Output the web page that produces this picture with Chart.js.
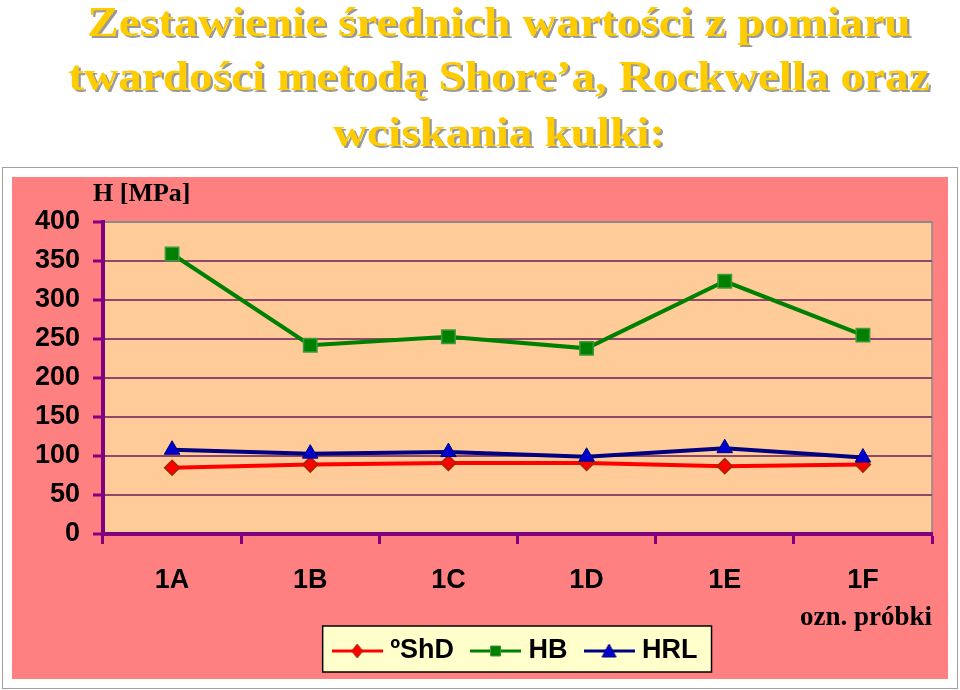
<!DOCTYPE html>
<html><head><meta charset="utf-8">
<script src="https://cdn.jsdelivr.net/npm/chart.js@4.4.1/dist/chart.umd.min.js"></script>
<style>
html,body{margin:0;padding:0;background:#fff;}
#wrap{position:relative;width:960px;height:690px;overflow:hidden;}
canvas{position:absolute;left:0;top:0;}
.t{position:absolute;left:0;width:998px;text-align:center;font:bold 42px "Liberation Serif","Times New Roman",serif;line-height:50px;color:#FFCC00;text-shadow:2px 2px 0 #999999;transform:scaleX(1.125);white-space:nowrap;}
</style></head><body>
<div id="wrap">
<canvas id="c" width="960" height="690"></canvas>
<div class="t" style="top:-3px">Zestawienie średnich wartości z pomiaru</div>
<div class="t" style="top:51px">twardości metodą Shore’a, Rockwella oraz</div>
<div class="t" style="top:107px">wciskania kulki:</div>
</div>
<script>
const categories = ['1A', '1B', '1C', '1D', '1E', '1F'];
const seriesNames = ['ºShD', 'HB', 'HRL'];
const shdValues = [85, 89, 91, 91, 87, 89];
const hbValues = [359, 242, 253, 238, 324, 255];
const hrlValues = [108, 103, 105, 99, 110, 98];
const yAxisTitle = 'H [MPa]';
const xAxisTitle = 'ozn. próbki';

const SANS = "'Liberation Sans', Arial, sans-serif";
const SERIF = "'Liberation Serif', 'Times New Roman', serif";

function sample(lineColor, kind, fill, stroke) {
  const c = document.createElement('canvas');
  c.width = 51; c.height = 20;
  const g = c.getContext('2d');
  g.strokeStyle = lineColor; g.lineWidth = 3;
  g.beginPath(); g.moveTo(0, 10); g.lineTo(51, 10); g.stroke();
  g.fillStyle = fill; g.strokeStyle = stroke; g.lineWidth = 1;
  g.beginPath();
  if (kind === 'diamond') { g.moveTo(25.5, 3); g.lineTo(31, 10); g.lineTo(25.5, 17); g.lineTo(20, 10); }
  else if (kind === 'square') { g.rect(20.5, 5, 10, 10); }
  else { g.moveTo(25.5, 3); g.lineTo(32.5, 16); g.lineTo(18.5, 16); }
  g.closePath(); g.fill(); g.stroke();
  return c;
}
const samples = [
  sample('#FF0000', 'diamond', '#FF0000', '#A02800'),
  sample('#008000', 'square', '#008000', '#3C9A3C'),
  sample('#000080', 'triangle', '#0000CC', '#000080')
];

const decor = {
  id: 'decor',
  afterLayout(chart) {
    const l = chart.legend;
    const d = 517.6 - (l.left + l.right) / 2;
    l.left += d; l.right += d;
  },
  beforeDraw(chart) {
    const ctx = chart.ctx, a = chart.chartArea;
    ctx.save();
    ctx.fillStyle = '#fff'; ctx.fillRect(0, 0, 960, 690);
    ctx.strokeStyle = '#a0a0a0'; ctx.lineWidth = 1;
    ctx.strokeRect(2.5, 167.5, 955, 521);
    ctx.fillStyle = '#FF8080'; ctx.fillRect(12, 177, 936, 502);
    ctx.fillStyle = '#FFCC99'; ctx.fillRect(a.left, a.top, a.right - a.left, a.bottom - a.top);
    ctx.strokeStyle = '#8a8a8a'; ctx.lineWidth = 1.5;
    ctx.strokeRect(a.left, a.top, a.right - a.left, a.bottom - a.top);
    const hb = chart.legend.legendHitBoxes;
    if (hb && hb.length) {
      const first = hb[0], last = hb[hb.length - 1];
      const cy = first.top + first.height / 2;
      const x0 = first.left - 15, x1 = last.left + last.width + 14;
      ctx.fillStyle = '#FFFFCC';
      ctx.fillRect(x0, cy - 25, x1 - x0, 46);
      ctx.strokeStyle = '#000'; ctx.lineWidth = 1.5;
      ctx.strokeRect(x0, cy - 25, x1 - x0, 46);
    }
    ctx.restore();
  },
  afterDraw(chart) {
    const ctx = chart.ctx, a = chart.chartArea;
    ctx.save();
    ctx.fillStyle = '#000';
    ctx.font = 'bold 26px ' + SERIF;
    ctx.textAlign = 'left'; ctx.textBaseline = 'alphabetic';
    ctx.fillText(yAxisTitle, a.left - 10, a.top - 21);
    ctx.restore();
  }
};

new Chart(document.getElementById('c'), {
  type: 'line',
  data: {
    labels: categories,
    datasets: [
      { label: seriesNames[0], data: shdValues, borderColor: '#FF0000', borderWidth: 4,
        pointStyle: 'rectRot', pointRadius: 7.5, pointBackgroundColor: '#FF0000',
        pointBorderColor: '#A02800', pointBorderWidth: 1.5, tension: 0, order: 2 },
      { label: seriesNames[1], data: hbValues, borderColor: '#008000', borderWidth: 4,
        pointStyle: 'rect', pointRadius: 9.5, pointBackgroundColor: '#008000',
        pointBorderColor: '#3C9A3C', pointBorderWidth: 1.5, tension: 0, order: 1 },
      { label: seriesNames[2], data: hrlValues, borderColor: '#000080', borderWidth: 4,
        pointStyle: 'triangle', pointRadius: 9, pointBackgroundColor: '#0000CC',
        pointBorderColor: '#000080', pointBorderWidth: 1, tension: 0, order: 0 }
    ]
  },
  options: {
    responsive: false,
    animation: false,
    devicePixelRatio: 1,
    layout: { padding: { left: 35, right: 28, top: 222, bottom: 15.5 } },
    plugins: {
      title: { display: false },
      tooltip: { enabled: false },
      legend: {
        position: 'bottom',
        labels: {
          color: '#000',
          font: { family: SANS, size: 27, weight: 'bold' },
          usePointStyle: true,
          pointStyleWidth: 39,
          padding: 22,
          sort: (a, b) => a.datasetIndex - b.datasetIndex,
          generateLabels(chart) {
            const items = Chart.defaults.plugins.legend.labels.generateLabels(chart);
            items.forEach(it => { it.pointStyle = samples[it.datasetIndex]; });
            return items;
          }
        }
      }
    },
    scales: {
      x: {
        type: 'category',
        offset: true,
        afterFit: s => { s.height = 81.5; },
        grid: { display: true, drawOnChartArea: false, drawTicks: true, tickLength: 10,
                tickColor: '#800080', tickWidth: 3, offset: true },
        border: { display: true, color: '#800080', width: 4 },
        ticks: { color: '#000', font: { family: SANS, size: 27, weight: 'bold' },
                 padding: 20, maxRotation: 0, autoSkip: false },
        title: { display: true, text: xAxisTitle, align: 'end', color: '#000',
                 font: { family: SERIF, size: 27, weight: 'bold' },
                 padding: { top: 5, bottom: -19 } }
      },
      y: {
        min: 0, max: 400,
        afterFit: s => { s.width = 68; },
        ticks: { stepSize: 50, color: '#000', font: { family: SANS, size: 27, weight: 'bold' }, padding: 13 },
        grid: {
          color: c => (c.tick && c.tick.value === 400) ? '#8a8a8a' : '#8f4868',
          lineWidth: 2, drawTicks: true, tickLength: 10, tickColor: '#800080', tickWidth: 3
        },
        border: { display: true, color: '#800080', width: 4 }
      }
    }
  },
  plugins: [decor]
});
</script>
</body></html>
